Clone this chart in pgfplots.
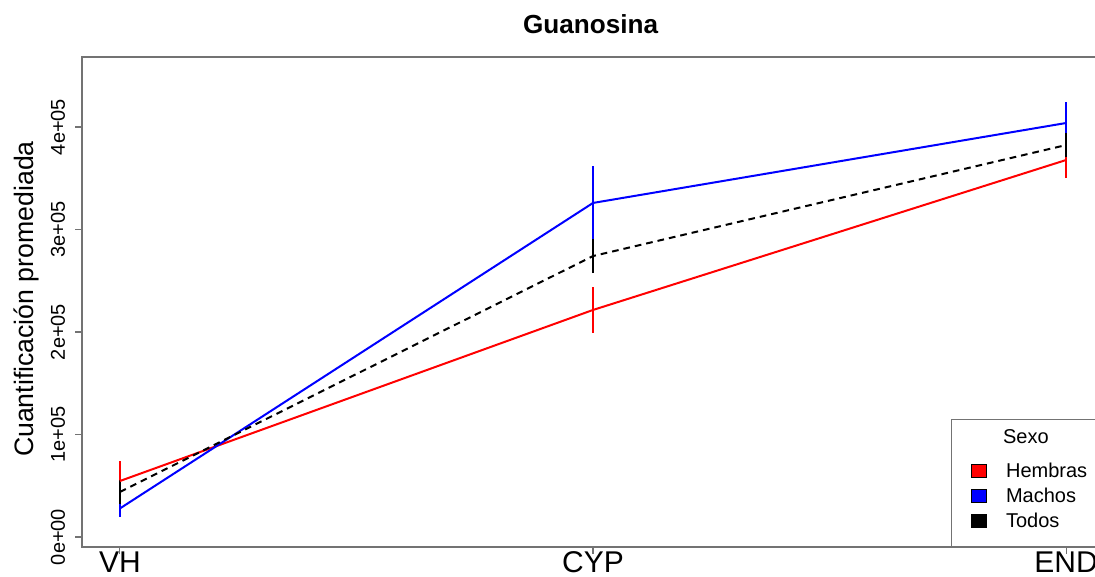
\documentclass[border=0pt]{standalone}
\usepackage{fontspec}
\setmainfont{Liberation Sans}
\usepackage{pgfplots}
\pgfplotsset{compat=1.18}

\definecolor{boxgray}{gray}{0.45}
\definecolor{hembras}{RGB}{255,0,0}
\definecolor{machos}{RGB}{0,0,255}

\begin{document}
\begin{tikzpicture}
% visible page: the plot frame runs a little past the right edge
\useasboundingbox (-61.5pt,-22.5pt) rectangle (759.75pt,410.25pt);
\clip (-61.5pt,-22.5pt) rectangle (759.75pt,410.25pt);
\begin{axis}[
  scale only axis,
  width=766.5pt, height=367.5pt,
  xmin=0.92, xmax=3.08,
  ymin=-9750, ymax=468300,
  axis line style={draw=boxgray, line width=0.9pt},
  xtick={1,2,3}, xticklabels={VH,CYP,END},
  ytick={0,100000,200000,300000,400000},
  yticklabels={0e+00,1e+05,2e+05,3e+05,4e+05},
  scaled y ticks=false,
  xtick pos=left, ytick pos=left,
  tick align=outside, major tick length=5pt,
  tick style={draw=boxgray, line width=0.9pt},
  xticklabel style={font=\fontsize{22.5}{22.5}\selectfont, anchor=north, inner sep=0pt},
  yticklabel style={font=\fontsize{15}{15}\selectfont, rotate=90, anchor=south, inner sep=0pt},
  xticklabel shift=-1.75pt, yticklabel shift=7.5pt,
  title={Guanosina},
  title style={font=\bfseries\fontsize{19.6}{19.6}\selectfont,
    at={(axis description cs:0.4976,1)}, anchor=center, yshift=18.75pt},
  ylabel={Cuantificación promediada},
  ylabel style={font=\fontsize{20}{20}\selectfont,
    at={(axis description cs:-0.0548,0.506)}, anchor=center},
  legend cell align=left,
  legend style={at={(rel axis cs:1,0)}, anchor=south east,
    draw=boxgray, line width=0.9pt, fill=white,
    inner xsep=0pt, inner ysep=0pt, row sep=0pt, column sep=15pt,
    font=\fontsize{15}{15}\selectfont,
    nodes={inner sep=0pt, text width=73pt, align=left,
      text height=14.75pt, text depth=4pt}},
]

% error bars: mean - se to mean + se at each stage
\addplot[draw=hembras, line width=1pt, forget plot] coordinates {(1,35100) (1,74100)};
\addplot[draw=hembras, line width=1pt, forget plot] coordinates {(2,199100) (2,243900)};
\addplot[draw=hembras, line width=1pt, forget plot] coordinates {(3,350200) (3,385400)};
\addplot[draw=machos, line width=1pt, forget plot] coordinates {(1,20000) (1,35600)};
\addplot[draw=machos, line width=1pt, forget plot] coordinates {(2,289800) (2,362000)};
\addplot[draw=machos, line width=1pt, forget plot] coordinates {(3,383400) (3,424400)};
\addplot[draw=black, line width=1pt, forget plot] coordinates {(1,32200) (1,55600)};
\addplot[draw=black, line width=1pt, forget plot] coordinates {(2,257500) (2,290700)};
\addplot[draw=black, line width=1pt, forget plot] coordinates {(3,370700) (3,394100)};

% Hembras
\addplot[draw=hembras, line width=1.5pt, forget plot]
  coordinates {(1,54600) (2,221500) (3,367800)};
% Machos
\addplot[draw=machos, line width=1.5pt, forget plot]
  coordinates {(1,27800) (2,325900) (3,403900)};
% Todos
\addplot[draw=black, line width=1.5pt, dash pattern=on 5pt off 3.75pt, forget plot]
  coordinates {(1,43900) (2,274100) (3,382400)};

\addlegendimage{empty legend}
\addlegendentry[text height=18.12pt, text depth=10.75pt]{\hspace*{-2.25pt}Sexo}
\addlegendimage{legend image code/.code={%
  \path (-14.25pt,0pt);
  \filldraw[fill=hembras, draw=black, line width=0.4pt] (0pt,-5pt) rectangle (11pt,5pt);}}
\addlegendentry{Hembras}
\addlegendimage{legend image code/.code={%
  \path (-14.25pt,0pt);
  \filldraw[fill=machos, draw=black, line width=0.4pt] (0pt,-5pt) rectangle (11pt,5pt);}}
\addlegendentry{Machos}
\addlegendimage{legend image code/.code={%
  \path (-14.25pt,-18.75pt);
  \filldraw[fill=black, draw=black, line width=0.4pt] (0pt,-5pt) rectangle (11pt,5pt);}}
\addlegendentry{Todos}
\end{axis}
\end{tikzpicture}
\end{document}
